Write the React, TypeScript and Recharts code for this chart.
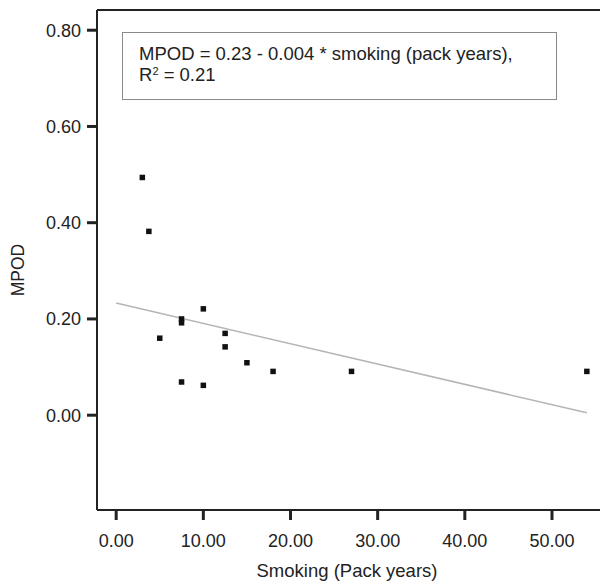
import { ReferenceLine, Scatter, ScatterChart, XAxis, YAxis } from "recharts"

const smoking = [3, 3.75, 10, 7.5, 7.5, 5, 12.5, 12.5, 15, 18, 7.5, 10, 27, 54]
const mpod = [0.494, 0.382, 0.221, 0.2, 0.192, 0.16, 0.17, 0.142, 0.109, 0.091, 0.069, 0.062, 0.091, 0.091]
const xTicks = [0, 10, 20, 30, 40, 50]
const yTicks = [0, 0.2, 0.4, 0.6, 0.8]
const fitStart = { x: 0, y: 0.233 }
const fitEnd = { x: 54, y: 0.005 }

const X_DOMAIN: [number, number] = [-2.2, 57]
const Y_DOMAIN: [number, number] = [-0.197, 0.842]

const points = smoking.map((x, i) => ({ x, y: mpod[i] }))

const FONT = "'Liberation Sans', Arial, sans-serif"
const INK = "#222"

const Square = (props: any) => {
  const { cx, cy } = props
  if (cx == null || cy == null) return null
  return <rect x={cx - 2.75} y={cy - 2.75} width={5.5} height={5.5} fill="#111" />
}

const YLabel = () => (
  <text x={24} y={270} transform="rotate(-90 24 270)" textAnchor="middle" fontSize={17.5} fill={INK} fontFamily={FONT}>
    MPOD
  </text>
)

export default function App() {
  return (
    <div style={{ position: "absolute", left: 0, top: 0, width: 600, height: 585, overflow: "hidden", background: "#fff", fontFamily: FONT }}>
      <ScatterChart width={620} height={585} margin={{ top: 10, right: 7, bottom: 0, left: 0 }}>
        <XAxis
          type="number"
          dataKey="x"
          domain={X_DOMAIN}
          ticks={xTicks}
          allowDataOverflow
          height={75}
          tickSize={10}
          tickMargin={14}
          tickFormatter={(v: number) => v.toFixed(2)}
          axisLine={{ stroke: INK, strokeWidth: 2 }}
          tickLine={{ stroke: INK, strokeWidth: 3 }}
          tick={{ fill: INK, fontSize: 18, fontFamily: FONT }}
          label={{ value: "Smoking (Pack years)", position: "insideBottom", offset: 8, dx: -8, fill: INK, fontSize: 18.5, fontFamily: FONT }}
        />
        <YAxis
          type="number"
          dataKey="y"
          domain={Y_DOMAIN}
          ticks={yTicks}
          allowDataOverflow
          width={97}
          tickSize={10}
          tickMargin={6}
          tickFormatter={(v: number) => v.toFixed(2)}
          axisLine={{ stroke: INK, strokeWidth: 2 }}
          tickLine={{ stroke: INK, strokeWidth: 3 }}
          tick={{ fill: INK, fontSize: 18, fontFamily: FONT }}
          label={{ content: YLabel }}
        />
        <ReferenceLine y={Y_DOMAIN[1]} stroke={INK} strokeWidth={2} />
        <ReferenceLine segment={[fitStart, fitEnd]} stroke="#b5b5b5" strokeWidth={1.5} />
        <Scatter data={points} shape={Square} isAnimationActive={false} />
      </ScatterChart>
      <div
        style={{
          position: "absolute",
          left: 122,
          top: 32,
          width: 417,
          height: 56,
          border: "1.5px solid #8a8a8a",
          color: INK,
          fontSize: 18.5,
          lineHeight: "21px",
          padding: "10px 0 0 16px",
          boxSizing: "content-box",
        }}
      >
        <div>MPOD = 0.23 - 0.004 * smoking (pack years),</div>
        <div>
          R<sup style={{ fontSize: 11, verticalAlign: "6px", lineHeight: 0 }}>2</sup> = 0.21
        </div>
      </div>
    </div>
  )
}
